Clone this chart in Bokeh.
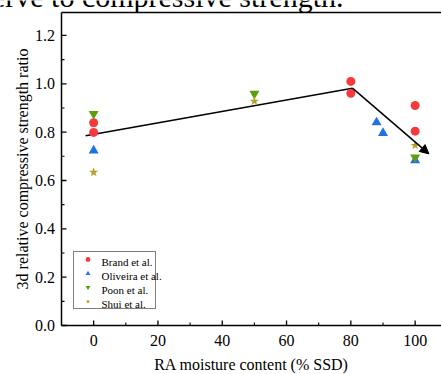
import math
from bokeh.plotting import figure
from bokeh.models import Range1d, Legend, LegendItem, Arrow, NormalHead, Label
from bokeh.embed import file_html
from bokeh.resources import INLINE

# ---------------- data ----------------
brand_x = [0, 0, 80, 80, 100, 100]
brand_y = [0.839, 0.799, 1.010, 0.961, 0.910, 0.804]

oliveira_x = [0, 88, 90, 100]
oliveira_y = [0.724, 0.840, 0.796, 0.683]

poon_x = [0, 50, 100]
poon_y = [0.876, 0.959, 0.696]

shui_x = [0, 50, 100]
shui_y = [0.634, 0.928, 0.745]

trend_x = [-2.5, 80.5]
trend_y = [0.785, 0.982]
arrow_end_x = 104.3
arrow_end_y = 0.710

series_names = ["Brand et al.", "Oliveira et al.", "Poon et al.", "Shui et al."]

x_ticks = [0, 20, 40, 60, 80, 100]
x_tick_labels = ["0", "20", "40", "60", "80", "100"]
x_minor = [10, 30, 50, 70, 90]
y_ticks = [0.0, 0.2, 0.4, 0.6, 0.8, 1.0, 1.2]
y_tick_labels = ["0.0", "0.2", "0.4", "0.6", "0.8", "1.0", "1.2"]
y_minor = [0.1, 0.3, 0.5, 0.7, 0.9, 1.1]

x_title = "RA moisture content (% SSD)"
y_title = "3d relative compressive strength ratio"
caption = "serve to compressive strength."

FONT = "Liberation Serif"
# plotting box (data) and the canvas it sits in
X0, X1, Y0, Y1 = -10, 108.2, 0, 1.295
W, H = 441, 374
BOX_L, BOX_T, BOX_B = 61, 12, 325          # pixel edges of the axes box
sx = (W - BOX_L) / (X1 - X0)
sy = (BOX_B - BOX_T) / (Y1 - Y0)

p = figure(width=W, height=H, output_backend="svg", toolbar_location=None,
           x_range=Range1d(X0 - BOX_L / sx, X1),
           y_range=Range1d(Y0 - (H - BOX_B) / sy, Y1 + BOX_T / sy),
           min_border=0, min_border_left=0, min_border_right=0,
           min_border_top=0, min_border_bottom=0)
p.xaxis.visible = False
p.yaxis.visible = False
p.xgrid.visible = False
p.ygrid.visible = False
p.outline_line_color = None
p.background_fill_color = "white"
p.border_fill_color = "white"

# axes box
p.segment(x0=[X0, X0, X0], y0=[Y0, Y0, Y1], x1=[X1, X0, X1], y1=[Y0, Y1, Y1],
          line_color="black", line_width=1.5)
# inward ticks
p.ray(x=x_ticks, y=[Y0] * len(x_ticks), length=5, length_units="screen", angle=math.pi / 2,
      line_color="black", line_width=1.3)
p.ray(x=x_minor, y=[Y0] * len(x_minor), length=3, length_units="screen", angle=math.pi / 2,
      line_color="black", line_width=1.1)
p.ray(x=[X0] * len(y_ticks), y=y_ticks, length=5, length_units="screen", angle=0,
      line_color="black", line_width=1.3)
p.ray(x=[X0] * len(y_minor), y=y_minor, length=3, length_units="screen", angle=0,
      line_color="black", line_width=1.1)

def lab(**kw):
    kw.setdefault("text_font", FONT)
    kw.setdefault("text_color", "black")
    p.add_layout(Label(**kw))

for v, t in zip(x_ticks, x_tick_labels):
    lab(x=v, y=H - 340, x_units="data", y_units="screen", text=t, text_align="center",
        text_baseline="middle", text_font_size="16px")
for v, t in zip(y_ticks, y_tick_labels):
    lab(x=BOX_L - 6.5, y=v, x_units="screen", y_units="data", text=t, text_align="right",
        text_baseline="middle", text_font_size="16px")

lab(x=(X0 + X1) / 2, y=H - 363.5, x_units="data", y_units="screen", text=x_title,
    text_align="center", text_baseline="middle", text_font_size="16px")
lab(x=22, y=(Y0 + Y1) / 2, x_units="screen", y_units="data", text=y_title, angle=math.pi / 2,
    text_align="center", text_baseline="middle", text_font_size="16px")

# trend line + arrow
p.line(trend_x, trend_y, line_color="black", line_width=1.5)
p.add_layout(Arrow(end=NormalHead(size=9, fill_color="black", line_color="black"),
                   x_start=trend_x[-1], y_start=trend_y[-1],
                   x_end=arrow_end_x, y_end=arrow_end_y,
                   line_color="black", line_width=1.5))

r1 = p.scatter(brand_x, brand_y, marker="circle", size=9, fill_color="#F5393D", line_color=None)
r2 = p.scatter(oliveira_x, oliveira_y, marker="triangle", size=10, fill_color="#1F6FE5", line_color=None)
r3 = p.scatter(poon_x, poon_y, marker="inverted_triangle", size=10, fill_color="#5E9E0A", line_color=None)
r4 = p.scatter(shui_x, shui_y, marker="star", size=10, fill_color="#B3A22A", line_color=None)

legend = Legend(items=[LegendItem(label=n, renderers=[r]) for n, r in
                       zip(series_names, [r1, r2, r3, r4])],
                location=(BOX_L + 12, H - BOX_B + 16), orientation="vertical",
                border_line_color="black", border_line_width=1,
                background_fill_alpha=0,
                padding=1, margin=0, spacing=2,
                glyph_width=25, glyph_height=12, label_height=12, label_standoff=2,
                label_text_font=FONT, label_text_font_size="9.5px",
                label_text_alpha=0)
p.add_layout(legend, "center")

for i, n in enumerate(series_names):
    lab(x=101, y=H - 261 - 14 * i, x_units="screen", y_units="screen", text=n,
        text_align="left", text_baseline="middle", text_font_size="11px")

# partially visible caption text above the chart
lab(x=343, y=H + 4, x_units="screen", y_units="screen", text=caption, text_align="right",
    text_baseline="alphabetic", text_font_size="30px")

open("out.html", "w").write(file_html(p, INLINE))
